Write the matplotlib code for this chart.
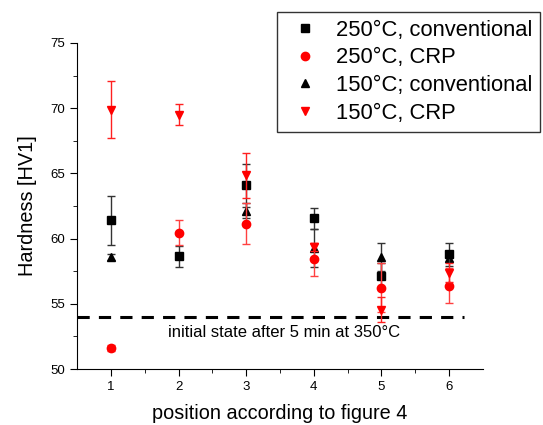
import numpy as np
import matplotlib
matplotlib.use("Agg")
import matplotlib.pyplot as plt

plt.rcParams['font.family'] = ['Liberation Sans', 'DejaVu Sans']

# data
positions = [1, 2, 3, 4, 5, 6]

conv250 = [61.4, 58.65, 64.1, 61.55, 57.15, 58.8]
conv250_err = [1.9, 0.8, 1.65, 0.8, 1.0, 0.9]

crp250 = [51.6, 60.45, 61.15, 58.4, 56.25, 56.4]
crp250_err = [0.25, 0.95, 1.55, 1.25, 1.9, 1.35]

conv150 = [58.6, np.nan, 62.15, 59.3, 58.6, 58.5]
conv150_err = [0.25, 0.0, 0.6, 1.45, 1.1, 0.3]

crp150 = [69.9, 69.5, 64.85, 59.35, 54.55, 57.4]
crp150_err = [2.15, 0.8, 1.7, 0.3, 0.95, 0.7]

initial_state = 54.0

fig = plt.figure(figsize=(5.43, 4.25), dpi=100)
ax = fig.add_axes([77 / 543, 1 - 369 / 425, 406 / 543, 326 / 425])

kw = dict(ls='none', markersize=6, elinewidth=1.0, capsize=3, capthick=1.0)
ax.errorbar(positions, conv150, yerr=conv150_err, fmt='^', color='black',
            ecolor='#333333', label='150°C; conventional', zorder=3, **kw)
ax.errorbar(positions, conv250, yerr=conv250_err, fmt='s', color='black',
            ecolor='#333333', label='250°C, conventional', zorder=4, **kw)
ax.errorbar(positions, crp250, yerr=crp250_err, fmt='o', color='red',
            ecolor='#ff4040', label='250°C, CRP', zorder=5, **kw)
ax.errorbar(positions, crp150, yerr=crp150_err, fmt='v', color='red',
            ecolor='#ff2020', label='150°C, CRP', zorder=6, **kw)

ax.plot([0.5, 6.22], [initial_state, initial_state], ls=(0, (4, 3)),
        color='black', lw=2.2, zorder=2)
ax.text(3.555, initial_state - 1.2, 'initial state after 5 min at 350°C',
        ha='center', va='center', fontsize=12)

ax.set_xlim(0.5, 6.5)
ax.set_ylim(50, 75)
ax.set_xticks(positions)
ax.set_xticks(np.arange(1.5, 6.5, 1.0), minor=True)
ax.set_yticks(np.arange(50, 76, 5))
ax.set_yticks(np.arange(52.5, 75, 5), minor=True)
ax.spines['top'].set_visible(False)
ax.spines['right'].set_visible(False)
ax.tick_params(which='major', direction='out', length=5, labelsize=9.5)
ax.tick_params(which='minor', direction='out', length=3)
ax.set_xlabel('position according to figure 4', fontsize=14.3, labelpad=8)
ax.set_ylabel('Hardness [HV1]', fontsize=14.3, labelpad=10)

handles, labels = ax.get_legend_handles_labels()
order = [1, 2, 0, 3]
leg = fig.legend([handles[i][0] for i in order], [labels[i] for i in order],
                 loc='upper left', bbox_to_anchor=(277 / 543, 1 - 12 / 425),
                 fontsize=15.8, frameon=True, fancybox=False,
                 edgecolor='black', handletextpad=0.47, labelspacing=0.30,
                 borderpad=0.36, handlelength=1.85, borderaxespad=0)
leg.get_frame().set_linewidth(1.0)

fig.savefig('out.png', dpi=100)
